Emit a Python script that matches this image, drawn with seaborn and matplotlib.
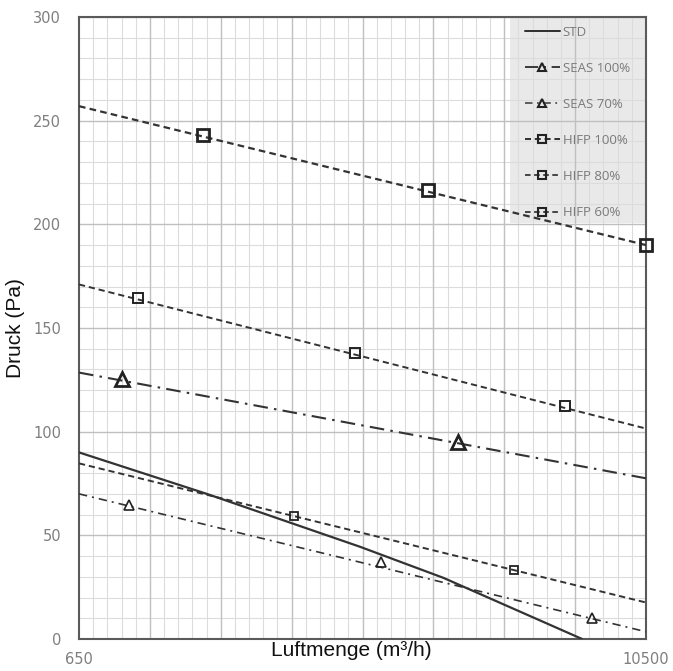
import matplotlib
matplotlib.use("Agg")
import matplotlib.pyplot as plt
from matplotlib.lines import Line2D
from matplotlib.patches import Rectangle
from matplotlib.ticker import MultipleLocator, FixedLocator
import seaborn as sns
import numpy as np

# ---------------- data ----------------
x_min, x_max = 650, 10500
y_min, y_max = 0, 300

std_x = [650, 2870, 5530, 6980, 9390]
std_y = [90, 70, 44.5, 29.5, 0]

seas100_line_x = [650, 10500]
seas100_line_y = [128.5, 77.5]
seas100_mark_x = [1400, 7240]
seas100_mark_y = [125.5, 95]

seas70_line_x = [650, 10500]
seas70_line_y = [70, 3.5]
seas70_mark_x = [1520, 5890, 9570]
seas70_mark_y = [64.5, 37, 10]

hifp100_line_x = [650, 10500]
hifp100_line_y = [257, 190]
hifp100_mark_x = [2810, 6710, 10500]
hifp100_mark_y = [243, 216.5, 190]

hifp80_line_x = [650, 10500]
hifp80_line_y = [171, 101.5]
hifp80_mark_x = [1670, 5450, 9090]
hifp80_mark_y = [164.5, 138, 112.5]

hifp60_line_x = [650, 10500]
hifp60_line_y = [84.7, 17.6]
hifp60_mark_x = [4390, 8210]
hifp60_mark_y = [59.5, 33.5]

labels = ["STD", "SEAS 100%", "SEAS 70%", "HIFP 100%", "HIFP 80%", "HIFP 60%"]
x_tick_labels = ["650", "10500"]

# ---------------- style ----------------
sns.set_style("white")
plt.rcParams['font.family'] = ['DejaVu Sans']

LC = "#333333"
styles = {
    "STD":       dict(lw=1.6, dashes=None, marker=None, ms=0, mew=0),
    "SEAS 100%": dict(lw=1.5, dashes=(7, 3, 1.2, 3), marker="^", ms=10, mew=2.0),
    "SEAS 70%":  dict(lw=1.2, dashes=(5, 3, 1.2, 3), marker="^", ms=7, mew=1.2),
    "HIFP 100%": dict(lw=1.6, dashes=(3.0, 1.9), marker="s", ms=9, mew=2.0),
    "HIFP 80%":  dict(lw=1.4, dashes=(3.2, 2.0), marker="s", ms=7, mew=1.4),
    "HIFP 60%":  dict(lw=1.4, dashes=(3.2, 2.0), marker="s", ms=6, mew=1.3),
}
series = {
    "STD": (std_x, std_y, [], []),
    "SEAS 100%": (seas100_line_x, seas100_line_y, seas100_mark_x, seas100_mark_y),
    "SEAS 70%": (seas70_line_x, seas70_line_y, seas70_mark_x, seas70_mark_y),
    "HIFP 100%": (hifp100_line_x, hifp100_line_y, hifp100_mark_x, hifp100_mark_y),
    "HIFP 80%": (hifp80_line_x, hifp80_line_y, hifp80_mark_x, hifp80_mark_y),
    "HIFP 60%": (hifp60_line_x, hifp60_line_y, hifp60_mark_x, hifp60_mark_y),
}

fig = plt.figure(figsize=(6.73, 6.71), dpi=100)
W, H = 673, 671
L, R, T, B = 79, 646, 17, 639
ax = fig.add_axes([L / W, (H - B) / H, (R - L) / W, (B - T) / H])

# grid
major_x = np.linspace(x_min, x_max, 9)
minor_x = np.linspace(x_min, x_max, 41)
ax.xaxis.set_major_locator(FixedLocator([x_min, x_max]))
ax.xaxis.set_minor_locator(FixedLocator(minor_x))
ax.yaxis.set_major_locator(MultipleLocator(50))
ax.yaxis.set_minor_locator(MultipleLocator(10))
ax.set_axisbelow(True)
ax.grid(which="minor", color="#dcdcdc", lw=0.8)
ax.grid(which="major", axis="y", color="#c0c0c0", lw=1.0)
for xv in major_x[1:-1]:
    ax.axvline(xv, color="#c0c0c0", lw=1.0, zorder=0.6)

# legend shaded area
ax.add_patch(Rectangle((0.76, 0.669), 0.24, 0.331, transform=ax.transAxes,
                       facecolor="#d0d0d0", alpha=0.45, edgecolor="none", zorder=0.4))

for name in labels:
    lx, ly, mx, my = series[name]
    st = styles[name]
    kw = dict(color=LC, lw=st["lw"])
    if st["dashes"] is not None:
        kw["dashes"] = st["dashes"]
    sns.lineplot(x=lx, y=ly, ax=ax, legend=False, sort=False, zorder=3, **kw)
    if st["marker"]:
        ax.plot(mx, my, linestyle="none", marker=st["marker"], ms=st["ms"],
                mew=st["mew"], mfc="none", mec="#222222", zorder=4, clip_on=False)

ax.set_xlim(x_min, x_max)
ax.set_ylim(y_min, y_max)

# spines
for s in ax.spines.values():
    s.set_color("#5a5a5a")
    s.set_linewidth(1.5)

ax.tick_params(which="both", length=0)
ax.tick_params(axis="y", pad=13, labelsize=10.5, labelcolor="#7f7f7f")
ax.tick_params(axis="x", pad=9, labelsize=10.5, labelcolor="#7f7f7f")
ax.set_xticklabels(x_tick_labels)

ax.set_xlabel("Luftmenge (m³/h)", fontsize=15, family="Liberation Sans", color="#111111")
ax.xaxis.set_label_coords(0.48, -0.004)
ax.xaxis.label.set_va("top")
ax.set_ylabel("Druck (Pa)", fontsize=15, family="Liberation Sans", color="#111111")
ax.yaxis.set_label_coords(-0.112, 0.5)
ax.yaxis.label.set_va("center")

# legend
handles = []
for name in labels:
    st = styles[name]
    h = Line2D([0], [0], color=LC, lw=st["lw"] * 0.9,
               marker=st["marker"] if st["marker"] else None,
               ms=5.5 if st["marker"] else 0, mew=1.5, mfc="none", mec="#222222")
    if st["dashes"] is not None:
        h.set_dashes(st["dashes"])
    handles.append(h)
leg = ax.legend(handles, labels, loc="upper left", bbox_to_anchor=(0.787, 0.986),
                frameon=False, handlelength=2.6, handletextpad=0.25,
                labelspacing=1.75, borderpad=0, borderaxespad=0, numpoints=1,
                prop={"family": "Open Sans", "size": 9.5}, labelcolor="#7a7a7a")

fig.savefig("out.png", dpi=100)
